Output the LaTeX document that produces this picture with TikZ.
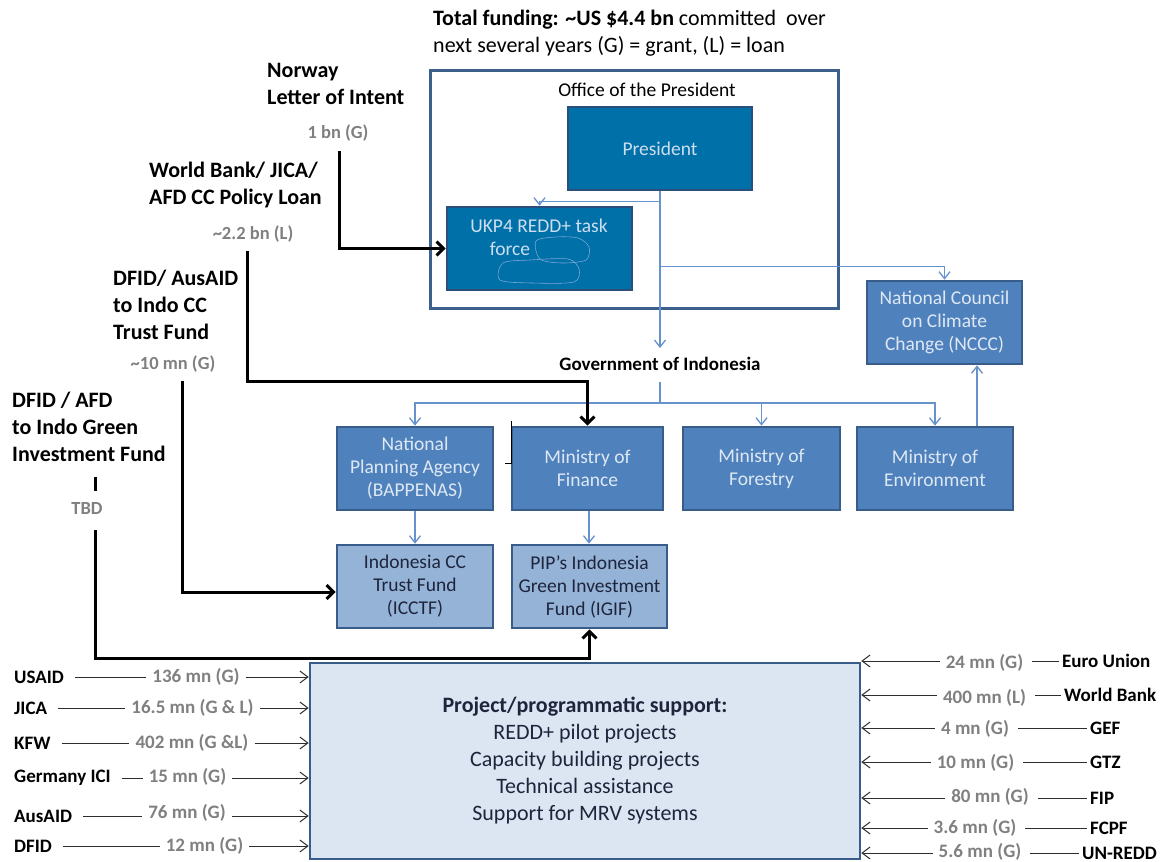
\documentclass[tikz,border=0pt]{standalone}
\usepackage{fontspec}
\setmainfont{Carlito}
\usetikzlibrary{arrows.meta}
\newcommand{\myfs}[2]{\fontsize{#1}{#2}\selectfont}
\definecolor{presfill}{RGB}{0,112,168}
\definecolor{presborder}{RGB}{44,78,122}
\definecolor{midblue}{RGB}{79,129,189}
\definecolor{boxborder}{RGB}{56,93,138}
\definecolor{lightfill}{RGB}{149,179,215}
\definecolor{projfill}{RGB}{220,230,242}
\definecolor{lighttxt}{RGB}{222,232,244}
\definecolor{prestxt}{RGB}{205,222,240}
\definecolor{darktxt}{RGB}{30,36,60}
\definecolor{bluelink}{RGB}{102,146,206}
\definecolor{amtgray}{RGB}{128,128,128}
\definecolor{officec}{RGB}{60,96,140}
\definecolor{thinc}{RGB}{45,45,45}
\definecolor{blobc}{RGB}{120,165,215}
\begin{document}
\begin{tikzpicture}[x=1pt,y=-1pt,
  boxbase/.style={draw=boxborder, line width=2.6pt, align=center, inner sep=2pt, font=\myfs{19.5}{23}},
  ministry/.style={boxbase, fill=midblue, text=lighttxt},
  fundbox/.style={boxbase, fill=lightfill, text=darktxt},
  presbox/.style={boxbase, draw=presborder, fill=presfill, text=prestxt},
  bl/.style={draw=bluelink, line width=1.3pt, -{Straight Barb[length=7pt,width=11pt]}},
  blplain/.style={draw=bluelink, line width=1.3pt},
  blk/.style={draw=black, line width=3pt, -{Straight Barb[length=7pt,width=14pt]}},
  blkplain/.style={draw=black, line width=3pt},
  flabel/.style={anchor=west, align=left, inner sep=0pt, font=\bfseries\myfs{22}{27}},
  topamt/.style={inner sep=2pt, text=amtgray, font=\bfseries\myfs{18.5}{22}},
  dn/.style={inner sep=2pt, anchor=west, font=\bfseries\myfs{19}{22}},
  amt/.style={inner sep=2pt, text=amtgray, font=\bfseries\myfs{19}{22}},
  gapl/.style={draw=thinc, line width=1pt, shorten <=9pt, shorten >=4pt},
  gapr/.style={draw=thinc, line width=1pt, shorten <=1pt, shorten >=7pt},
  ta/.style={draw=thinc, line width=1pt, shorten <=4pt, -{Straight Barb[length=8pt,width=12pt]}}
]
\useasboundingbox[fill=white] (0,0) rectangle (1163,862);

% title
\node[anchor=west, align=left, inner sep=0pt, font=\myfs{22}{27}] (title) at (433,33.5)
  {\textbf{Total funding: \textasciitilde US \$4.4 bn} committed\ \ over\\next several years (G) = grant, (L) = loan};

% office of the president
\node[draw=officec, line width=3pt, minimum width=408, minimum height=238, inner sep=0pt] (office) at (634,189) {};
\node[inner sep=1pt, font=\myfs{19.5}{23}] (officet) at (647,90) {Office of the President};
\node[presbox, minimum width=184, minimum height=83] (pres) at (660,148.5) {President};
\node[presbox, minimum width=185, minimum height=83] (ukp4) at (539.5,248.5) {};
\node[inner sep=0pt, align=center, text=prestxt, font=\myfs{19.5}{23}] (ukp4t) at (539,237.5) {UKP4 REDD+ task\\force\hspace*{58pt}};
\draw[blobc, line width=0.6pt] plot[smooth cycle] coordinates {(536,241) (556,237) (578,238) (589,247) (586,260) (562,263) (540,259)};
\draw[blobc, line width=0.6pt] plot[smooth cycle] coordinates {(503,263) (530,260) (568,259) (579,269) (574,282) (532,283) (500,280)};

% NCCC
\node[ministry, minimum width=155, minimum height=83] (nccc) at (944.5,322.5) {National Council\\on Climate\\Change (NCCC)};

% government
\node[inner sep=2pt, font=\bfseries\myfs{19}{22}] (gov) at (660,364) {Government of Indonesia};

% ministries
\node[ministry, minimum width=156, minimum height=83] (bap) at (415,468.5) {National\\Planning Agency\\(BAPPENAS)};
\node[ministry, minimum width=151, minimum height=83] (fin) at (587.5,468.5) {Ministry of\\Finance};
\node[ministry, minimum width=157, minimum height=83] (fore) at (761.5,468.5) {Ministry of\\Forestry};
\node[ministry, minimum width=156, minimum height=83] (env) at (935,468.5) {Ministry of\\Environment};

% funds
\node[fundbox, minimum width=156, minimum height=83] (icctf) at (415,586.5) {Indonesia CC\\Trust Fund\\(ICCTF)};
\node[fundbox, minimum width=155, minimum height=83] (igif) at (589.5,586.5) {PIP’s Indonesia\\Green Investment\\Fund (IGIF)};

% project box
\node[draw=boxborder, line width=2.6pt, fill=projfill, minimum width=550, minimum height=196, align=center, text=darktxt, font=\myfs{22}{27}] (proj) at (585,761)
  {\textbf{Project/programmatic support:}\\REDD+ pilot projects\\Capacity building projects\\Technical assistance\\Support for MRV systems};

% blue connectors
\draw[bl] (pres.south) -- ++(0,10) -| (ukp4.north);
\draw[bl, shorten >=7pt] (pres.south) -- (gov.north);
\coordinate (j1) at ([yshift=-75pt]pres.south);
\draw[bl] (j1) -| (nccc.north);
\coordinate (gb) at ([yshift=-39pt]gov.center);
\draw[blplain] ([yshift=-18pt]gov.center) -- (gb);
\draw[bl] (gb) -| (bap.north);
\draw[bl] (gb) -| (fore.north);
\draw[bl] (gb) -| (env.north);
\draw[bl] ([xshift=42pt]env.north) -- ([xshift=42pt]env.north |- nccc.south);
\draw[bl] (bap.south) -- (icctf.north);
\draw[bl] ([xshift=1.5pt]fin.south) -- ([xshift=1.5pt]fin.south |- igif.north);

% stray mark
\draw[black, line width=1pt] (511,421) -- (511,463) -- (505,463);

% top-left funders
\node[flabel] (norway) at (267,83.5) {Norway\\Letter of Intent};
\node[topamt] (noramt) at (338,133) {1 bn (G)};
\node[flabel] (wb) at (149,185.5) {World Bank/ JICA/\\AFD CC Policy Loan};
\node[topamt] (wbamt) at (253,234) {\textasciitilde2.2 bn (L)};
\node[flabel] (aus) at (113,304.5) {DFID/ AusAID\\to Indo CC\\Trust Fund};
\node[topamt] (ausamt) at (173,364) {\textasciitilde10 mn (G)};
\node[flabel] (afd) at (12,426.5) {DFID / AFD\\to Indo Green\\Investment Fund};
\node[topamt] (tbd) at (87,508) {TBD};

\draw[blk, shorten <=8pt] ([xshift=1pt]noramt.south) |- (ukp4.west);
\draw[blk, shorten <=7pt] ([xshift=-6pt]wbamt.south) |- ([yshift=44pt]fin.north) -- (fin.north);
\draw[blk, shorten <=7pt] ([xshift=9pt]ausamt.south) |- ([yshift=-5.5pt]icctf.west);
\draw[blkplain] ([xshift=8pt,yshift=23pt]tbd.north) -- ([xshift=8pt,yshift=9pt]tbd.north);
\draw[blk, shorten <=14pt] ([xshift=8pt]tbd.south) |- ([yshift=-29pt]igif.south) -- (igif.south);

% bottom-left donors
\node[dn] (usaid) at (12,677) {USAID};
\node[amt] (usaida) at (196,677) {136 mn (G)};
\node[dn] (jica) at (12,708) {JICA};
\node[amt] (jicaa) at (192.5,708) {16.5 mn (G \& L)};
\node[dn] (kfw) at (12,743) {KFW};
\node[amt] (kfwa) at (192,743) {402 mn (G \&L)};
\node[dn] (gici) at (12,778) {Germany ICI};
\node[amt] (gicia) at (187.5,777) {15 mn (G)};
\node[dn] (ausaid) at (12,816) {AusAID};
\node[amt] (ausaida) at (187,813) {76 mn (G)};
\node[dn] (dfid) at (12,846) {DFID};
\node[amt] (dfida) at (204.5,846) {12 mn (G)};

\foreach \n in {usaid,jica,kfw,gici,ausaid,dfid}{
  \draw[gapl] (\n) -- (\n -| \n a.west);
  \draw[ta] (\n a.east |- \n) -- (\n -| proj.west);
}

% bottom-right donors
\node[dn] (eu) at (1060,661) {Euro Union};
\node[amt] (eua) at (984.5,663) {24 mn (G)};
\node[dn] (wbk) at (1062,695) {World Bank};
\node[amt] (wbka) at (984.5,698) {400 mn (L)};
\node[dn] (gef) at (1088,728) {GEF};
\node[amt] (gefa) at (975,729) {4 mn (G)};
\node[dn] (gtz) at (1088,762) {GTZ};
\node[amt] (gtza) at (975.5,763) {10 mn (G)};
\node[dn] (fip) at (1088,798) {FIP};
\node[amt] (fipa) at (990,797) {80 mn (G)};
\node[dn] (fcpf) at (1088,828) {FCPF};
\node[amt] (fcpfa) at (975,828) {3.6 mn (G)};
\node[dn] (unredd) at (1080,853) {UN-REDD};
\node[amt] (unredda) at (980,852) {5.6 mn (G)};

\foreach \n in {eu,wbk,gef,gtz,fip,fcpf,unredd}{
  \draw[gapr] (\n) -- (\n -| \n a.east);
  \draw[ta] (\n a.west |- \n) -- (\n -| proj.east);
}
\end{tikzpicture}
\end{document}
